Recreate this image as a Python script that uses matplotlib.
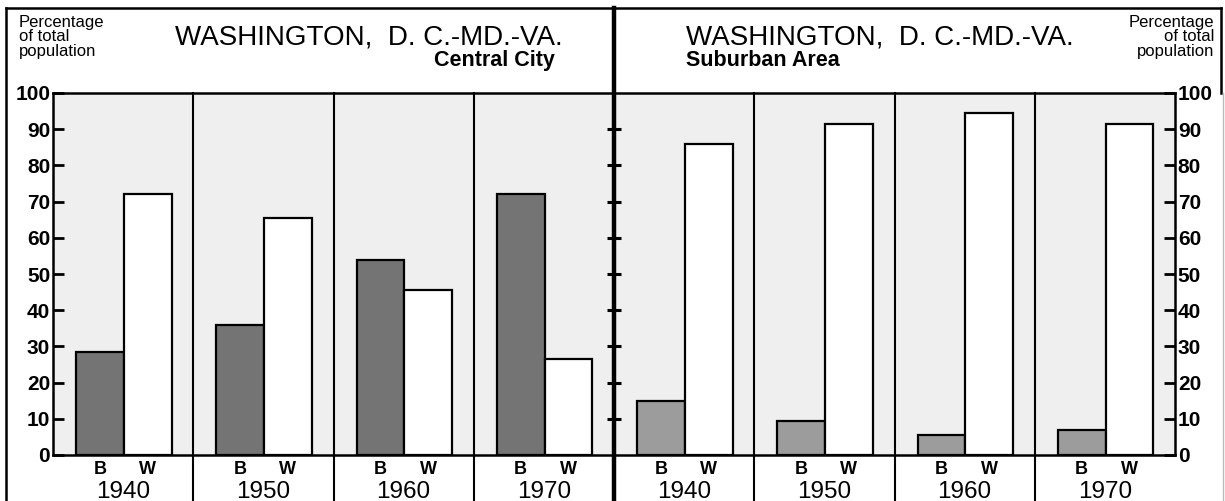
import matplotlib
matplotlib.use("Agg")
import matplotlib.pyplot as plt
from matplotlib.lines import Line2D
from matplotlib.transforms import blended_transform_factory

# values (percent of total population)
years = ["1940", "1950", "1960", "1970"]
central_black = [28.5, 36, 54, 72]
central_white = [72, 65.5, 45.5, 26.5]
suburb_black = [15, 9.3, 5.5, 7]
suburb_white = [86, 91.5, 94.5, 91.5]
yticks = list(range(0, 101, 10))

W, H = 1225, 501
plt.rcParams["font.family"] = ["Liberation Sans", "DejaVu Sans"]

fig = plt.figure(figsize=(W / 100, H / 100), dpi=100)


def fx(x):
    return x / W


def fy(y):
    return 1 - y / H


ax = fig.add_axes([fx(53), fy(455), fx(1175) - fx(53), fy(93) - fy(455)])
ax.set_facecolor("#efefef")

black_vals = central_black + suburb_black
white_vals = central_white + suburb_white
black_cols = ["#747474"] * 4 + ["#9c9c9c"] * 4
for i in range(8):
    ax.bar(i + 0.335, black_vals[i], width=0.34, color=black_cols[i],
           edgecolor="black", linewidth=1.6, zorder=3)
    ax.bar(i + 0.675, white_vals[i], width=0.34, color="white",
           edgecolor="black", linewidth=1.6, zorder=3)

ax.set_xlim(0, 8)
ax.set_ylim(0, 100)
ax.set_xticks([])
ax.set_yticks(yticks)
ax.set_yticklabels([str(v) for v in yticks], fontsize=15, fontweight="bold")
ax.tick_params(axis="y", direction="in", length=8, width=2, left=True,
               right=True, labelleft=True, labelright=True, pad=2)
for s in ax.spines.values():
    s.set_linewidth(1.8)

# ticks crossing the thick centre line
ax.plot([4] * 9, yticks[1:10], ls="none", marker="_", ms=10, mew=2.2,
        color="black", zorder=5, clip_on=False)

# panel dividers run down through the label area
bt = blended_transform_factory(ax.transData, fig.transFigure)
for i in [1, 2, 3, 5, 6, 7]:
    fig.add_artist(Line2D([i, i], [fy(93), 0], transform=bt, color="black",
                          lw=1.5, zorder=4))
fig.add_artist(Line2D([4, 4], [fy(8), 0], transform=bt, color="black",
                      lw=3.2, zorder=6))

# outer frame
fig.add_artist(Line2D([fx(6), fx(6)], [fy(8), 0], color="black", lw=1.8))
fig.add_artist(Line2D([fx(6), fx(1221)], [fy(8), fy(8)], color="black", lw=1.8))
fig.add_artist(Line2D([fx(1221), fx(1221)], [fy(8), fy(93)], color="black", lw=1.8))
fig.add_artist(Line2D([fx(1223), fx(1223)], [fy(93), 0], color="#bbbbbb", lw=1))

# B / W labels and years
for i in range(8):
    ax.text(i + 0.335, -1.6, "B", ha="center", va="top", fontsize=13,
            fontweight="bold", clip_on=False)
    ax.text(i + 0.675, -1.6, "W", ha="center", va="top", fontsize=13,
            fontweight="bold", clip_on=False)
    ax.text(i + 0.5, -11.9, years[i % 4], ha="center", va="baseline",
            fontsize=17.5, clip_on=False)

# header
fig.text(fx(19), fy(15), "Percentage\nof total\npopulation", ha="left",
         va="top", fontsize=12, linespacing=0.95)
fig.text(fx(1214), fy(15), "Percentage\nof total\npopulation", ha="right",
         va="top", fontsize=12, linespacing=0.95, multialignment="right")
fig.text(fx(175), fy(45), "WASHINGTON,  D. C.-MD.-VA.", ha="left",
         va="baseline", fontsize=20)
fig.text(fx(555), fy(66), "Central City", ha="right", va="baseline",
         fontsize=15.5, fontweight="bold")
fig.text(fx(686), fy(45), "WASHINGTON,  D. C.-MD.-VA.", ha="left",
         va="baseline", fontsize=20)
fig.text(fx(686), fy(66), "Suburban Area", ha="left", va="baseline",
         fontsize=15.5, fontweight="bold")

fig.savefig("out.png", dpi=100)
